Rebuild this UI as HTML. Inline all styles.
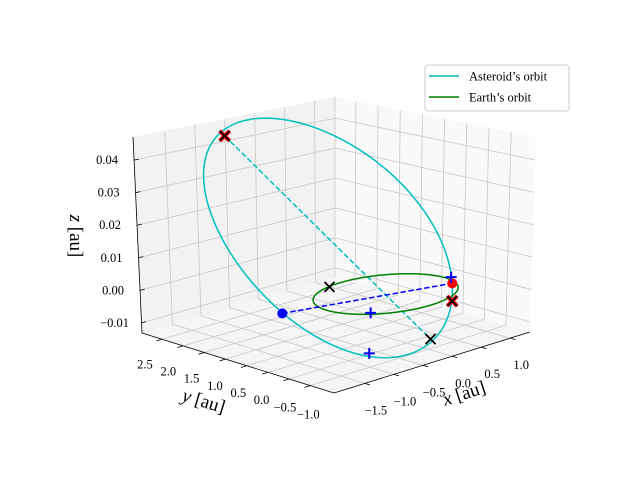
<!DOCTYPE html>
<html><head><meta charset="utf-8"><style>
html,body{margin:0;padding:0;background:#fff;}
svg{display:block;font-family:"Liberation Serif",serif;}
</style></head><body>
<svg id="chart" width="640" height="480" viewBox="0 0 640 480">
<g id="panes"></g>
<g id="grid"></g>
<g id="axes"></g>
<g id="series"></g>
<g id="markers"></g>
<g>
  <rect x="425" y="65" width="144" height="46" rx="3" fill="#fff" fill-opacity="0.8" stroke="#cccccc" stroke-width="1"/>
  <line x1="429" y1="76" x2="459" y2="76" stroke="#00bfbf" stroke-width="1.5"/>
  <text x="469" y="80.5" font-size="12.5" fill="#000">Asteroid’s orbit</text>
  <line x1="429" y1="97" x2="459" y2="97" stroke="#008000" stroke-width="1.5"/>
  <text x="469" y="101.5" font-size="12.5" fill="#000">Earth’s orbit</text>
</g>
</svg>
<script>
// ---- data ----
const xTicks = [-1.5, -1.0, -0.5, 0.0, 0.5, 1.0];
const yTicks = [-1.0, -0.5, 0.0, 0.5, 1.0, 1.5, 2.0, 2.5];
const zTicks = [-0.01, 0.0, 0.01, 0.02, 0.03, 0.04];
const xTickLabels = ["\u22121.5","\u22121.0","\u22120.5","0.0","0.5","1.0"];
const yTickLabels = ["\u22121.0","\u22120.5","0.0","0.5","1.0","1.5","2.0","2.5"];
const zTickLabels = ["\u22120.01","0.00","0.01","0.02","0.03","0.04"];
const xLimits = [-2.03, 1.34];
const yLimits = [-1.56, 2.97];
const zLimits = [-0.0131, 0.0471];
const earthRadius = [1.0];
const asteroidCenter = [-0.375, 0.79, 0.017];
const asteroidAxisA = [-0.675, 1.44, 0.031];
const asteroidAxisB = [-1.34, -0.204, -0.01];
const aphelion = [-1.05, 2.23, 0.046];
const perihelion = [0.30, -0.65, -0.013];
const nodePoint = [-1.478, 0.398, 0];
const earthPoint = [0.884, -0.349, 0];
const crossRed = [[0.337, -1.088, 0], [-1.05, 2.23, 0.046]];
const crossBlack = [[-0.26, 0.95, 0], [0.30, -0.65, -0.013], [0.337, -1.088, 0], [-1.05, 2.23, 0.046]];
const plusPoints = [[1.066, -0.078, 0], [-0.705, -0.608, 0], [-0.917, -0.867, -0.01]];

// ---- projection (box corner screen positions) ----
const C = {
 "000":[334,393],"100":[530,332],"010":[142,333],"110":[335,277],
 "001":[334,181],"101":[536,137],"011":[133,137],"111":[335,97]
};
function proj(x,y,z){
  const u=(x-xLimits[0])/(xLimits[1]-xLimits[0]);
  const v=(y-yLimits[0])/(yLimits[1]-yLimits[0]);
  const w=(z-zLimits[0])/(zLimits[1]-zLimits[0]);
  let px=0,py=0;
  for(const i of [0,1])for(const j of [0,1])for(const k of [0,1]){
    const wt=(i?u:1-u)*(j?v:1-v)*(k?w:1-w);
    const c=C[""+i+j+k]; px+=wt*c[0]; py+=wt*c[1];
  }
  return [px,py];
}
const NS="http://www.w3.org/2000/svg";
function mk(tag,attrs,parent){const e=document.createElementNS(NS,tag);for(const k in attrs)e.setAttribute(k,attrs[k]);parent.appendChild(e);return e;}
function poly(pts){return pts.map(p=>p[0].toFixed(2)+","+p[1].toFixed(2)).join(" ");}
const [X0,X1]=xLimits,[Y0,Y1]=yLimits,[Z0,Z1]=zLimits;

// panes
const panes=document.getElementById('panes');
let e;
e=mk('polygon',{points:poly([proj(X0,Y0,Z0),proj(X1,Y0,Z0),proj(X1,Y1,Z0),proj(X0,Y1,Z0)]),fill:'#f5f5f5',stroke:'none'},panes);


e=mk('polygon',{points:poly([proj(X0,Y1,Z0),proj(X1,Y1,Z0),proj(X1,Y1,Z1),proj(X0,Y1,Z1)]),fill:'#f2f2f2',stroke:'none'},panes);


e=mk('polygon',{points:poly([proj(X1,Y0,Z0),proj(X1,Y1,Z0),proj(X1,Y1,Z1),proj(X1,Y0,Z1)]),fill:'#f9f9f9',stroke:'none'},panes);



// grid
const grid=document.getElementById('grid');
function gl(a,b,name){const p=proj(...a),q=proj(...b);
  const l=mk('line',{x1:p[0],y1:p[1],x2:q[0],y2:q[1],stroke:'#c8c8c8','stroke-width':0.8},grid);
  
  }
xTicks.forEach(t=>{gl([t,Y0,Z0],[t,Y1,Z0],'grid-x-floor');gl([t,Y1,Z0],[t,Y1,Z1],'grid-x-wall');});
yTicks.forEach(t=>{gl([X0,t,Z0],[X1,t,Z0],'grid-y-floor');gl([X1,t,Z0],[X1,t,Z1],'grid-y-wall');});
zTicks.forEach(t=>{gl([X0,Y1,t],[X1,Y1,t],'grid-z-left');gl([X1,Y1,t],[X1,Y0,t],'grid-z-right');});
gl([X1,Y1,Z0],[X1,Y1,Z1],'pane-edge');

// axes
const axes=document.getElementById('axes');
function al(a,b,name,w){const p=proj(...a),q=proj(...b);
  const l=mk('line',{x1:p[0],y1:p[1],x2:q[0],y2:q[1],stroke:'#000','stroke-width':w},axes);
  
  }
al([X0,Y0,Z0],[X1,Y0,Z0],'x-axis-line',0.8);
al([X0,Y0,Z0],[X0,Y1,Z0],'y-axis-line',0.8);
al([X0,Y1,Z0],[X0,Y1,Z1],'z-axis-line',0.8);
function txt(x,y,s,name,extra){const t=mk('text',Object.assign({x:x,y:y,'font-size':12.5,'text-anchor':'middle',fill:'#000'},extra||{}),axes);t.textContent=s;
  
  return t;}
xTicks.forEach((t,i)=>{al([t,Y0,Z0],[t,Y0-0.12,Z0],'x-tick',0.8);
  const p=proj(t,Y0,Z0);txt(p[0]+11,p[1]+31,xTickLabels[i],'x-tick-label');});
yTicks.forEach((t,i)=>{al([X0,t,Z0],[X0-0.1,t,Z0],'y-tick',0.8);
  const v=(t-Y0)/(Y1-Y0);const p=proj(X0,t,Z0);
  txt(p[0]-2-(v-0.124)*19.4,p[1]+33-(v-0.124)*5,yTickLabels[i],'y-tick-label');});
zTicks.forEach((t,i)=>{al([X0,Y1,t],[X0+0.08,Y1,t],'z-tick',0.8);
  const p=proj(X0,Y1,t);txt(p[0]-27,p[1]+4,zTickLabels[i],'z-tick-label');});
let at=mk('text',{x:0,y:0,'font-size':19,'text-anchor':'middle',transform:'translate(466,399) rotate(-18)'},axes);
at.innerHTML='<tspan font-style="italic">x</tspan> [au]';


at=mk('text',{x:0,y:0,'font-size':19,'text-anchor':'middle',transform:'translate(202,407) rotate(17)'},axes);
at.innerHTML='<tspan font-style="italic">y</tspan> [au]';


at=mk('text',{x:0,y:0,'font-size':19,'text-anchor':'middle',transform:'translate(70,236) rotate(90)'},axes);
at.innerHTML='<tspan font-style="italic">z</tspan> [au]';



// series
const series=document.getElementById('series');
const N=240;
let ast=[],earth=[];
for(let k=0;k<=N;k++){const t=2*Math.PI*k/N,c=Math.cos(t),s=Math.sin(t);
  ast.push(proj(asteroidCenter[0]+c*asteroidAxisA[0]+s*asteroidAxisB[0],asteroidCenter[1]+c*asteroidAxisA[1]+s*asteroidAxisB[1],asteroidCenter[2]+c*asteroidAxisA[2]+s*asteroidAxisB[2]));
  earth.push(proj(earthRadius[0]*c,earthRadius[0]*s,0));}
e=mk('polyline',{points:poly(ast),fill:'none',stroke:'#00bfbf','stroke-width':1.5},series);


let p=proj(...aphelion),q=proj(...perihelion);
e=mk('line',{x1:p[0],y1:p[1],x2:q[0],y2:q[1],stroke:'#00bfbf','stroke-width':1.5,'stroke-dasharray':'5.5,2.5'},series);


e=mk('polyline',{points:poly(earth),fill:'none',stroke:'#008000','stroke-width':1.5},series);


p=proj(...nodePoint);q=proj(...earthPoint);
e=mk('line',{x1:p[0],y1:p[1],x2:q[0],y2:q[1],stroke:'#0000ff','stroke-width':1.5,'stroke-dasharray':'5.5,2.5'},series);



// markers
const mg=document.getElementById('markers');
function cross(pt,col,sz,w,name){const s=proj(...pt);
  const g=mk('path',{d:`M${s[0]-sz},${s[1]-sz}L${s[0]+sz},${s[1]+sz}M${s[0]-sz},${s[1]+sz}L${s[0]+sz},${s[1]-sz}`,stroke:col,'stroke-width':w,fill:'none'},mg);
  
  }
function plus(pt,name){const s=proj(...pt),sz=5.5;
  const g=mk('path',{d:`M${s[0]-sz},${s[1]}L${s[0]+sz},${s[1]}M${s[0]},${s[1]-sz}L${s[0]},${s[1]+sz}`,stroke:'#0000ff','stroke-width':2,fill:'none'},mg);
  
  }
function dot(pt,col,name){const s=proj(...pt);
  const g=mk('circle',{cx:s[0],cy:s[1],r:5,fill:col},mg);
  
  }
dot(nodePoint,'#0000ff','node-marker');
dot(earthPoint,'#ff0000','earth-marker');
plusPoints.forEach(pt=>plus(pt,'plus-marker'));
crossRed.forEach(pt=>cross(pt,'#ff0000',5,4,'red-cross-marker'));
crossBlack.forEach(pt=>cross(pt,'#000000',5,1.8,'black-cross-marker'));
</script>
</body></html>
